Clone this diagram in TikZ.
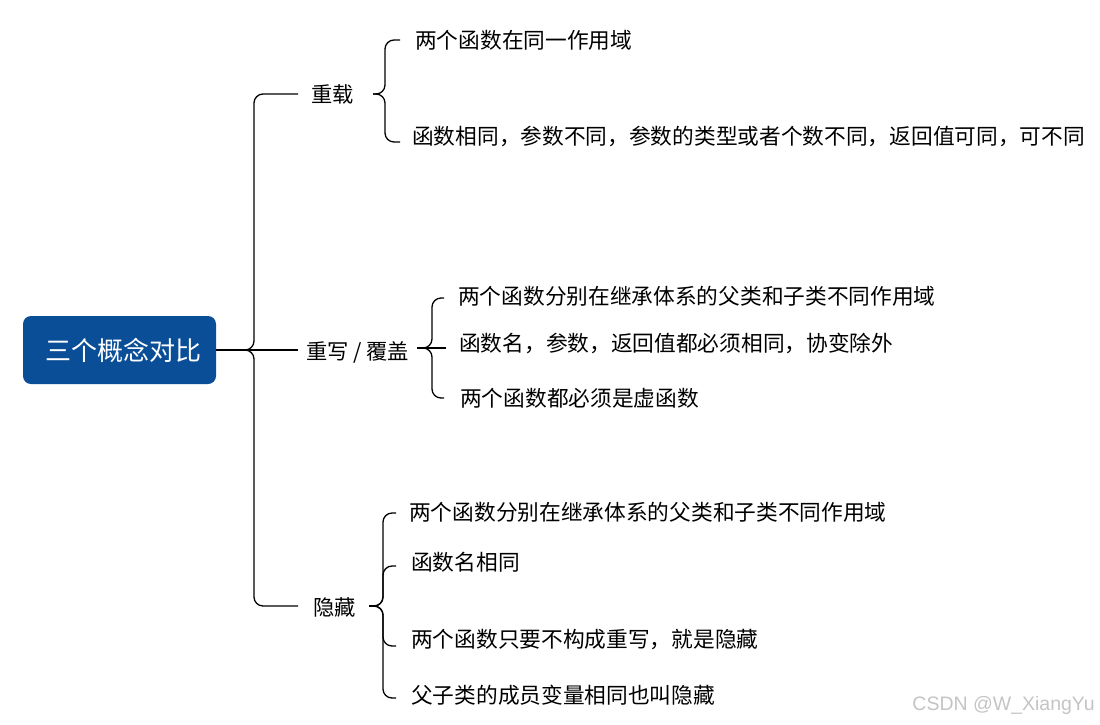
\documentclass[tikz,border=0pt]{standalone}
\usepackage{fontspec}
\newfontfamily\cjk{Noto Sans CJK SC}
\newfontfamily\wmfont{Liberation Sans}
\definecolor{rootblue}{HTML}{0A4E98}
\definecolor{wmgray}{HTML}{C4C4C4}
\begin{document}
\begin{tikzpicture}[x=1pt,y=-1pt,
  conn/.style={draw=black, line width=1.3pt, rounded corners=9pt},
  rootbox/.style={rectangle, rounded corners=8pt, fill=rootblue, text=white,
    minimum width=193pt, minimum height=68pt, inner sep=0pt,
    font=\cjk\fontsize{26}{30}\selectfont},
  branch/.style={anchor=west, inner sep=0pt, font=\cjk\fontsize{21.3}{26}\selectfont},
  leaf/.style={anchor=west, inner sep=0pt, font=\cjk\fontsize{21.7}{26}\selectfont},
  wm/.style={anchor=east, inner sep=0pt, text=wmgray, font=\wmfont\fontsize{19.5}{23}\selectfont}]
\useasboundingbox (0,0) rectangle (1100,724);

% root
\node[rootbox] (root) at (119.5,350) {\hspace*{7pt}三个概念对比};

% branches
\node[branch] (b1) at (311,94) {重载};
\node[branch] (b2) at (306,352) {重写 / 覆盖};
\node[branch] (b3) at (313,607) {隐藏};

% leaves
\node[leaf] (l11) at (415,40) {两个函数在同一作用域};
\node[leaf] (l12) at (412,136) {函数相同，参数不同，参数的类型或者个数不同，返回值可同，可不同};
\node[leaf] (l21) at (458,296) {两个函数分别在继承体系的父类和子类不同作用域};
\node[leaf] (l22) at (459,343) {函数名，参数，返回值都必须相同，协变除外};
\node[leaf] (l23) at (460,398) {两个函数都必须是虚函数};
\node[leaf] (l31) at (409,512) {两个函数分别在继承体系的父类和子类不同作用域};
\node[leaf] (l32) at (411,562) {函数名相同};
\node[leaf] (l33) at (411,640) {两个函数只要不构成重写，就是隐藏};
\node[leaf] (l34) at (411,695) {父子类的成员变量相同也叫隐藏};

% hook ends
\coordinate (h11) at (400,40);
\coordinate (h12) at (400,142);
\coordinate (h21) at (444,298);
\coordinate (h22) at (446,348);
\coordinate (h23) at (444,398);
\coordinate (h31) at (396,513);
\coordinate (h32) at (396,566);
\coordinate (h33) at (396,646);
\coordinate (h34) at (396,698);

% branch starts
\coordinate (s1) at (373,94);
\coordinate (s2) at (417,348);
\coordinate (s3) at (369,606);

% root connectors
\draw[conn] (root.east) -- (254,350) |- ([xshift=-13pt]b1.west);
\draw[conn] (root.east) -- ([xshift=-8pt]b2.west |- root.east);
\draw[conn] (root.east) -- (254,350) |- ([xshift=-15pt]b3.west |- s3);

% brace 1
\draw[conn] (s1) -- (385,94) |- (h11);
\draw[conn] (s1) -- (385,94) |- (h12);

% brace 2
\draw[conn] (s2) -- (432,348) |- (h21);
\draw[conn] (s2) -- (h22);
\draw[conn] (s2) -- (432,348) |- (h23);

% brace 3
\draw[conn] (s3) -- (383,606) |- (h31);
\draw[conn] (s3) -- (383,606) |- (h32);
\draw[conn] (s3) -- (383,606) |- (h33);
\draw[conn] (s3) -- (383,606) |- (h34);

% watermark
\node[wm] (wm) at (1095,705) {CSDN @W\_XiangYu};
\end{tikzpicture}
\end{document}
